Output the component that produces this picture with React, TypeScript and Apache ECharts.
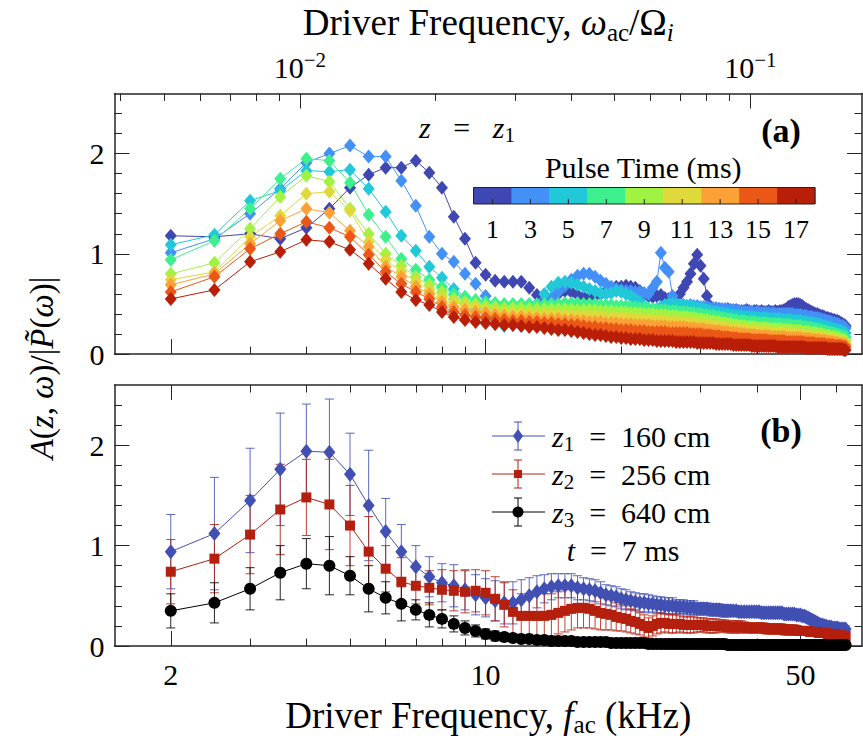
import React, { useEffect, useRef } from 'react';
import * as echarts from 'echarts';

// ---------------- data ----------------
const FREQ_KHZ = [
  2, 2.5, 3, 3.5, 4, 4.5, 5, 5.5, 6, 6.5,
  7, 7.5, 8, 8.5, 9, 9.5, 10, 10.5, 11, 11.5,
  12, 12.5, 13, 13.5, 14, 14.5, 15, 15.5, 16, 16.5,
  17, 17.5, 18, 18.5, 19, 19.5, 20, 20.5, 21, 21.5,
  22, 22.5, 23, 23.5, 24, 24.5, 25, 25.5, 26, 26.5,
  27, 27.5, 28, 28.5, 29, 29.5, 30, 30.5, 31, 31.5,
  32, 32.5, 33, 33.5, 34, 34.5, 35, 35.5, 36, 36.5,
  37, 37.5, 38, 38.5, 39, 39.5, 40, 40.5, 41, 41.5,
  42, 42.5, 43, 43.5, 44, 44.5, 45, 45.5, 46, 46.5,
  47, 47.5, 48, 48.5, 49, 49.5, 50, 50.5, 51, 51.5,
  52, 52.5, 53, 53.5, 54, 54.5, 55, 55.5, 56, 56.5,
  57, 57.5, 58, 58.5, 59, 59.5, 60, 60.5, 61, 61.5,
  62, 62.5, 63,
];

const PULSE_TIMES_MS = [1, 3, 5, 7, 9, 11, 13, 15, 17];

const A_1MS = [
  1.18, 1.17, 1.20, 1.15, 1.26, 1.45, 1.66, 1.79, 1.86, 1.86,
  1.93, 1.81, 1.66, 1.37, 1.15, 0.91, 0.79, 0.73, 0.72, 0.72,
  0.72, 0.66, 0.59, 0.52, 0.55, 0.60, 0.63, 0.62, 0.59, 0.57,
  0.56, 0.58, 0.60, 0.63, 0.65, 0.67, 0.67, 0.68, 0.67, 0.66,
  0.63, 0.60, 0.58, 0.57, 0.58, 0.59, 0.56, 0.55, 0.54, 0.56,
  0.60, 0.66, 0.72, 0.80, 0.90, 0.99, 0.88, 0.75, 0.58, 0.48,
  0.45, 0.44, 0.45, 0.44, 0.44, 0.45, 0.44, 0.43, 0.44, 0.43,
  0.43, 0.43, 0.44, 0.43, 0.42, 0.43, 0.43, 0.42, 0.43, 0.42,
  0.42, 0.43, 0.42, 0.42, 0.43, 0.42, 0.43, 0.43, 0.44, 0.45,
  0.47, 0.48, 0.49, 0.50, 0.50, 0.50, 0.49, 0.48, 0.46, 0.45,
  0.44, 0.43, 0.42, 0.41, 0.40, 0.40, 0.39, 0.38, 0.38, 0.37,
  0.36, 0.36, 0.35, 0.35, 0.34, 0.34, 0.33, 0.33, 0.32, 0.31,
  0.30, 0.29, 0.28,
];
const A_3MS = [
  1.01, 1.15, 1.40, 1.65, 1.91, 2.00, 2.08, 1.97, 1.97, 1.73,
  1.48, 1.17, 1.00, 0.92, 0.80, 0.70, 0.58, 0.47, 0.40, 0.37,
  0.37, 0.40, 0.45, 0.50, 0.56, 0.62, 0.68, 0.74, 0.78, 0.80,
  0.80, 0.77, 0.73, 0.70, 0.67, 0.65, 0.64, 0.63, 0.63, 0.62,
  0.62, 0.61, 0.60, 0.66, 0.72, 1.01, 0.86, 0.82, 0.58, 0.50,
  0.49, 0.49, 0.48, 0.49, 0.48, 0.48, 0.47, 0.47, 0.47, 0.46,
  0.46, 0.46, 0.45, 0.45, 0.45, 0.44, 0.44, 0.44, 0.43, 0.43,
  0.43, 0.42, 0.42, 0.42, 0.42, 0.41, 0.42, 0.41, 0.41, 0.41,
  0.41, 0.41, 0.40, 0.41, 0.40, 0.40, 0.40, 0.40, 0.40, 0.40,
  0.40, 0.40, 0.40, 0.39, 0.39, 0.39, 0.39, 0.38, 0.38, 0.38,
  0.37, 0.37, 0.37, 0.36, 0.36, 0.36, 0.35, 0.35, 0.34, 0.34,
  0.33, 0.33, 0.32, 0.32, 0.31, 0.31, 0.30, 0.30, 0.29, 0.28,
  0.28, 0.27, 0.26,
];
const A_5MS = [
  1.09, 1.19, 1.53, 1.63, 1.83, 1.82, 1.84, 1.65, 1.42, 1.18,
  1.03, 0.87, 0.76, 0.65, 0.57, 0.46, 0.37, 0.30, 0.28, 0.29,
  0.33, 0.40, 0.50, 0.60, 0.67, 0.71, 0.72, 0.71, 0.69, 0.67,
  0.65, 0.63, 0.61, 0.60, 0.61, 0.63, 0.62, 0.60, 0.58, 0.55,
  0.52, 0.48, 0.45, 0.43, 0.45, 0.47, 0.49, 0.50, 0.50, 0.50,
  0.49, 0.49, 0.48, 0.48, 0.47, 0.46, 0.46, 0.45, 0.44, 0.43,
  0.42, 0.42, 0.41, 0.41, 0.40, 0.40, 0.39, 0.39, 0.38, 0.38,
  0.38, 0.37, 0.37, 0.37, 0.37, 0.36, 0.36, 0.36, 0.36, 0.36,
  0.36, 0.35, 0.35, 0.35, 0.35, 0.35, 0.35, 0.34, 0.34, 0.34,
  0.34, 0.34, 0.33, 0.33, 0.33, 0.33, 0.33, 0.32, 0.32, 0.32,
  0.31, 0.31, 0.31, 0.30, 0.30, 0.30, 0.29, 0.29, 0.28, 0.28,
  0.27, 0.27, 0.26, 0.26, 0.25, 0.25, 0.24, 0.24, 0.23, 0.23,
  0.22, 0.22, 0.21,
];
const A_7MS = [
  0.94, 1.13, 1.45, 1.75, 1.95, 1.93, 1.71, 1.39, 1.17, 0.95,
  0.84, 0.74, 0.67, 0.60, 0.57, 0.54, 0.52, 0.51, 0.50, 0.50,
  0.50, 0.50, 0.49, 0.50, 0.50, 0.50, 0.51, 0.51, 0.51, 0.50,
  0.50, 0.50, 0.49, 0.49, 0.49, 0.48, 0.48, 0.48, 0.47, 0.47,
  0.46, 0.46, 0.45, 0.45, 0.44, 0.44, 0.44, 0.43, 0.43, 0.43,
  0.42, 0.42, 0.42, 0.41, 0.41, 0.40, 0.40, 0.39, 0.39, 0.38,
  0.38, 0.37, 0.37, 0.36, 0.36, 0.35, 0.35, 0.34, 0.34, 0.33,
  0.33, 0.33, 0.32, 0.32, 0.32, 0.32, 0.31, 0.31, 0.31, 0.31,
  0.31, 0.30, 0.30, 0.30, 0.30, 0.30, 0.30, 0.29, 0.29, 0.29,
  0.29, 0.29, 0.28, 0.28, 0.28, 0.28, 0.28, 0.27, 0.27, 0.27,
  0.26, 0.26, 0.26, 0.25, 0.25, 0.25, 0.24, 0.24, 0.23, 0.23,
  0.22, 0.22, 0.21, 0.21, 0.21, 0.20, 0.20, 0.19, 0.19, 0.18,
  0.18, 0.17, 0.17,
];
const A_9MS = [
  0.80, 0.91, 1.25, 1.57, 1.78, 1.72, 1.45, 1.20, 1.00, 0.88,
  0.77, 0.69, 0.62, 0.55, 0.52, 0.50, 0.48, 0.47, 0.46, 0.46,
  0.46, 0.45, 0.45, 0.45, 0.45, 0.45, 0.45, 0.45, 0.44, 0.44,
  0.44, 0.44, 0.43, 0.43, 0.43, 0.42, 0.42, 0.42, 0.41, 0.41,
  0.41, 0.40, 0.40, 0.40, 0.39, 0.39, 0.39, 0.38, 0.38, 0.38,
  0.37, 0.37, 0.37, 0.36, 0.36, 0.35, 0.35, 0.34, 0.34, 0.33,
  0.33, 0.32, 0.32, 0.31, 0.31, 0.30, 0.30, 0.29, 0.29, 0.28,
  0.28, 0.28, 0.27, 0.27, 0.27, 0.27, 0.26, 0.26, 0.26, 0.26,
  0.26, 0.25, 0.25, 0.25, 0.25, 0.25, 0.25, 0.24, 0.24, 0.24,
  0.24, 0.24, 0.23, 0.23, 0.23, 0.23, 0.23, 0.22, 0.22, 0.22,
  0.22, 0.21, 0.21, 0.21, 0.21, 0.20, 0.20, 0.20, 0.19, 0.19,
  0.18, 0.18, 0.18, 0.17, 0.17, 0.17, 0.16, 0.16, 0.15, 0.15,
  0.14, 0.14, 0.13,
];
const A_11MS = [
  0.74, 0.82, 1.17, 1.38, 1.60, 1.62, 1.43, 1.12, 0.94, 0.82,
  0.72, 0.64, 0.57, 0.52, 0.49, 0.47, 0.44, 0.43, 0.42, 0.41,
  0.41, 0.40, 0.40, 0.40, 0.40, 0.39, 0.39, 0.39, 0.39, 0.38,
  0.38, 0.38, 0.37, 0.37, 0.37, 0.36, 0.36, 0.36, 0.35, 0.35,
  0.35, 0.34, 0.34, 0.34, 0.33, 0.33, 0.33, 0.32, 0.32, 0.32,
  0.32, 0.31, 0.31, 0.31, 0.30, 0.30, 0.30, 0.29, 0.29, 0.28,
  0.28, 0.28, 0.27, 0.27, 0.26, 0.26, 0.25, 0.25, 0.25, 0.24,
  0.24, 0.24, 0.23, 0.23, 0.23, 0.23, 0.22, 0.22, 0.22, 0.22,
  0.22, 0.21, 0.21, 0.21, 0.21, 0.21, 0.21, 0.20, 0.20, 0.20,
  0.20, 0.20, 0.19, 0.19, 0.19, 0.19, 0.19, 0.18, 0.18, 0.18,
  0.18, 0.18, 0.17, 0.17, 0.17, 0.17, 0.17, 0.16, 0.16, 0.16,
  0.15, 0.15, 0.15, 0.14, 0.14, 0.14, 0.13, 0.13, 0.13, 0.12,
  0.12, 0.11, 0.11,
];
const A_13MS = [
  0.69, 0.80, 1.10, 1.33, 1.45, 1.41, 1.23, 1.07, 0.87, 0.77,
  0.67, 0.60, 0.52, 0.47, 0.44, 0.42, 0.41, 0.39, 0.38, 0.37,
  0.37, 0.36, 0.36, 0.35, 0.35, 0.35, 0.34, 0.34, 0.33, 0.33,
  0.32, 0.32, 0.32, 0.31, 0.31, 0.31, 0.30, 0.30, 0.30, 0.29,
  0.29, 0.29, 0.29, 0.28, 0.28, 0.28, 0.28, 0.27, 0.27, 0.27,
  0.27, 0.27, 0.26, 0.26, 0.26, 0.25, 0.25, 0.25, 0.24, 0.24,
  0.23, 0.23, 0.23, 0.22, 0.22, 0.22, 0.21, 0.21, 0.21, 0.20,
  0.20, 0.20, 0.19, 0.19, 0.19, 0.19, 0.18, 0.18, 0.18, 0.18,
  0.18, 0.18, 0.17, 0.17, 0.17, 0.17, 0.17, 0.17, 0.17, 0.16,
  0.16, 0.16, 0.16, 0.16, 0.16, 0.16, 0.16, 0.15, 0.15, 0.15,
  0.15, 0.15, 0.14, 0.14, 0.14, 0.14, 0.14, 0.13, 0.13, 0.13,
  0.13, 0.12, 0.12, 0.12, 0.12, 0.11, 0.11, 0.11, 0.10, 0.10,
  0.10, 0.09, 0.09,
];
const A_15MS = [
  0.62, 0.77, 1.05, 1.20, 1.32, 1.26, 1.17, 0.99, 0.82, 0.70,
  0.62, 0.55, 0.47, 0.42, 0.39, 0.37, 0.36, 0.35, 0.34, 0.33,
  0.33, 0.32, 0.32, 0.31, 0.31, 0.30, 0.30, 0.29, 0.29, 0.28,
  0.27, 0.27, 0.26, 0.26, 0.25, 0.25, 0.24, 0.24, 0.24, 0.23,
  0.23, 0.23, 0.22, 0.22, 0.22, 0.22, 0.22, 0.21, 0.21, 0.21,
  0.21, 0.21, 0.21, 0.20, 0.20, 0.20, 0.20, 0.19, 0.19, 0.19,
  0.18, 0.18, 0.18, 0.17, 0.17, 0.17, 0.16, 0.16, 0.16, 0.15,
  0.15, 0.15, 0.15, 0.15, 0.14, 0.14, 0.14, 0.14, 0.14, 0.14,
  0.14, 0.13, 0.13, 0.13, 0.13, 0.13, 0.13, 0.13, 0.13, 0.12,
  0.12, 0.12, 0.12, 0.12, 0.12, 0.12, 0.12, 0.12, 0.11, 0.11,
  0.11, 0.11, 0.11, 0.11, 0.10, 0.10, 0.10, 0.10, 0.10, 0.10,
  0.09, 0.09, 0.09, 0.09, 0.09, 0.08, 0.08, 0.08, 0.08, 0.08,
  0.07, 0.07, 0.07,
];
const A_17MS = [
  0.55, 0.64, 0.92, 1.02, 1.14, 1.12, 1.04, 0.90, 0.75, 0.62,
  0.54, 0.49, 0.42, 0.37, 0.34, 0.32, 0.31, 0.30, 0.29, 0.29,
  0.28, 0.27, 0.27, 0.26, 0.25, 0.24, 0.24, 0.23, 0.22, 0.21,
  0.20, 0.19, 0.19, 0.18, 0.17, 0.17, 0.16, 0.16, 0.15, 0.15,
  0.15, 0.14, 0.14, 0.14, 0.13, 0.13, 0.13, 0.13, 0.13, 0.12,
  0.12, 0.12, 0.12, 0.12, 0.12, 0.11, 0.11, 0.11, 0.11, 0.11,
  0.11, 0.10, 0.10, 0.10, 0.10, 0.10, 0.10, 0.09, 0.09, 0.09,
  0.09, 0.09, 0.09, 0.09, 0.08, 0.08, 0.08, 0.08, 0.08, 0.08,
  0.08, 0.08, 0.08, 0.08, 0.08, 0.07, 0.07, 0.07, 0.07, 0.07,
  0.07, 0.07, 0.07, 0.07, 0.07, 0.07, 0.07, 0.07, 0.07, 0.06,
  0.06, 0.06, 0.06, 0.06, 0.06, 0.06, 0.06, 0.06, 0.06, 0.06,
  0.06, 0.05, 0.05, 0.05, 0.05, 0.05, 0.05, 0.05, 0.05, 0.05,
  0.05, 0.04, 0.04,
];

// panel (b): t = 7 ms, three probe positions
const Z1_MEAN = [
  0.94, 1.12, 1.45, 1.76, 1.94, 1.93, 1.71, 1.40, 1.14, 0.94,
  0.79, 0.69, 0.63, 0.60, 0.56, 0.51, 0.48, 0.45, 0.43, 0.43,
  0.46, 0.50, 0.54, 0.57, 0.59, 0.60, 0.60, 0.60, 0.58, 0.57,
  0.56, 0.55, 0.53, 0.51, 0.50, 0.49, 0.47, 0.46, 0.45, 0.44,
  0.43, 0.43, 0.42, 0.42, 0.41, 0.41, 0.40, 0.40, 0.40, 0.39,
  0.39, 0.39, 0.38, 0.38, 0.38, 0.37, 0.37, 0.37, 0.37, 0.36,
  0.36, 0.36, 0.36, 0.35, 0.35, 0.35, 0.35, 0.35, 0.35, 0.34,
  0.34, 0.34, 0.34, 0.34, 0.34, 0.34, 0.34, 0.34, 0.33, 0.33,
  0.33, 0.33, 0.33, 0.33, 0.33, 0.33, 0.33, 0.33, 0.32, 0.32,
  0.32, 0.32, 0.32, 0.32, 0.31, 0.31, 0.31, 0.30, 0.30, 0.29,
  0.28, 0.27, 0.26, 0.25, 0.24, 0.23, 0.22, 0.21, 0.21, 0.20,
  0.20, 0.19, 0.19, 0.19, 0.18, 0.18, 0.18, 0.18, 0.17, 0.17,
  0.17, 0.17, 0.17,
];
const Z1_ERR = [
  0.37, 0.56, 0.52, 0.56, 0.47, 0.53, 0.41, 0.55, 0.33, 0.27,
  0.21, 0.20, 0.19, 0.21, 0.20, 0.20, 0.19, 0.20, 0.21, 0.21,
  0.20, 0.18, 0.16, 0.14, 0.13, 0.12, 0.12, 0.12, 0.12, 0.11,
  0.11, 0.11, 0.11, 0.10, 0.10, 0.10, 0.10, 0.10, 0.09, 0.09,
  0.09, 0.09, 0.09, 0.08, 0.08, 0.08, 0.08, 0.08, 0.08, 0.07,
  0.07, 0.07, 0.07, 0.07, 0.07, 0.06, 0.06, 0.06, 0.06, 0.06,
  0.06, 0.06, 0.06, 0.06, 0.06, 0.06, 0.05, 0.05, 0.05, 0.05,
  0.05, 0.05, 0.05, 0.05, 0.05, 0.05, 0.05, 0.05, 0.05, 0.05,
  0.05, 0.05, 0.05, 0.05, 0.05, 0.05, 0.05, 0.04, 0.04, 0.04,
  0.04, 0.04, 0.04, 0.04, 0.04, 0.04, 0.04, 0.04, 0.04, 0.04,
  0.04, 0.04, 0.04, 0.04, 0.04, 0.04, 0.04, 0.04, 0.04, 0.04,
  0.04, 0.04, 0.04, 0.03, 0.03, 0.03, 0.03, 0.03, 0.03, 0.03,
  0.03, 0.03, 0.03,
];
const Z2_MEAN = [
  0.74, 0.87, 1.11, 1.36, 1.48, 1.41, 1.20, 0.94, 0.77, 0.64,
  0.60, 0.58, 0.56, 0.55, 0.54, 0.55, 0.53, 0.47, 0.41, 0.34,
  0.30, 0.30, 0.30, 0.30, 0.31, 0.33, 0.35, 0.37, 0.38, 0.38,
  0.37, 0.35, 0.33, 0.32, 0.31, 0.29, 0.28, 0.27, 0.25, 0.24,
  0.22, 0.20, 0.18, 0.20, 0.22, 0.23, 0.23, 0.22, 0.22, 0.22,
  0.22, 0.21, 0.21, 0.21, 0.21, 0.21, 0.21, 0.21, 0.20, 0.20,
  0.20, 0.20, 0.20, 0.20, 0.20, 0.19, 0.19, 0.19, 0.19, 0.19,
  0.19, 0.19, 0.18, 0.18, 0.18, 0.18, 0.18, 0.18, 0.18, 0.18,
  0.17, 0.17, 0.17, 0.17, 0.17, 0.17, 0.17, 0.17, 0.16, 0.16,
  0.16, 0.16, 0.16, 0.16, 0.16, 0.15, 0.15, 0.15, 0.15, 0.15,
  0.15, 0.14, 0.14, 0.14, 0.14, 0.14, 0.13, 0.13, 0.13, 0.13,
  0.13, 0.12, 0.12, 0.12, 0.12, 0.12, 0.11, 0.11, 0.11, 0.11,
  0.10, 0.10, 0.10,
];
const Z2_ERR = [
  0.32, 0.34, 0.39, 0.45, 0.38, 0.45, 0.40, 0.35, 0.23, 0.24,
  0.18, 0.17, 0.20, 0.20, 0.21, 0.21, 0.22, 0.22, 0.22, 0.22,
  0.22, 0.22, 0.22, 0.22, 0.21, 0.21, 0.21, 0.21, 0.20, 0.20,
  0.19, 0.18, 0.17, 0.16, 0.15, 0.14, 0.13, 0.13, 0.12, 0.12,
  0.11, 0.11, 0.10, 0.10, 0.10, 0.10, 0.09, 0.09, 0.09, 0.09,
  0.08, 0.08, 0.08, 0.08, 0.08, 0.07, 0.07, 0.07, 0.07, 0.07,
  0.07, 0.07, 0.06, 0.06, 0.06, 0.06, 0.06, 0.06, 0.06, 0.06,
  0.06, 0.05, 0.05, 0.05, 0.05, 0.05, 0.05, 0.05, 0.05, 0.05,
  0.05, 0.05, 0.05, 0.05, 0.05, 0.05, 0.05, 0.05, 0.05, 0.05,
  0.05, 0.05, 0.05, 0.05, 0.04, 0.04, 0.04, 0.04, 0.04, 0.04,
  0.04, 0.04, 0.04, 0.04, 0.04, 0.04, 0.04, 0.04, 0.04, 0.04,
  0.04, 0.04, 0.04, 0.04, 0.04, 0.04, 0.04, 0.04, 0.04, 0.04,
  0.04, 0.04, 0.04,
];
const Z3_MEAN = [
  0.35, 0.43, 0.57, 0.73, 0.82, 0.80, 0.70, 0.57, 0.48, 0.42,
  0.36, 0.31, 0.27, 0.22, 0.18, 0.15, 0.12, 0.10, 0.09, 0.08,
  0.07, 0.07, 0.06, 0.06, 0.05, 0.05, 0.05, 0.05, 0.04, 0.04,
  0.04, 0.04, 0.04, 0.04, 0.03, 0.03, 0.03, 0.03, 0.03, 0.03,
  0.03, 0.03, 0.02, 0.02, 0.02, 0.02, 0.02, 0.02, 0.02, 0.02,
  0.02, 0.02, 0.02, 0.02, 0.02, 0.02, 0.02, 0.02, 0.02, 0.02,
  0.02, 0.02, 0.02, 0.02, 0.02, 0.01, 0.01, 0.01, 0.01, 0.01,
  0.01, 0.01, 0.01, 0.01, 0.01, 0.01, 0.01, 0.01, 0.01, 0.01,
  0.01, 0.01, 0.01, 0.01, 0.01, 0.01, 0.01, 0.01, 0.01, 0.01,
  0.01, 0.01, 0.01, 0.01, 0.01, 0.01, 0.01, 0.01, 0.01, 0.01,
  0.01, 0.01, 0.01, 0.01, 0.01, 0.01, 0.01, 0.01, 0.01, 0.01,
  0.01, 0.01, 0.01, 0.01, 0.01, 0.01, 0.01, 0.01, 0.01, 0.01,
  0.01, 0.01, 0.01,
];
const Z3_ERR = [
  0.17, 0.20, 0.21, 0.27, 0.25, 0.29, 0.19, 0.23, 0.16, 0.17,
  0.10, 0.12, 0.09, 0.08, 0.07, 0.06, 0.05, 0.05, 0.04, 0.04,
  0.03, 0.03, 0.03, 0.03, 0.03, 0.03, 0.02, 0.02, 0.02, 0.02,
  0.02, 0.02, 0.02, 0.02, 0.02, 0.02, 0.02, 0.02, 0.02, 0.02,
  0.02, 0.02, 0.01, 0.01, 0.01, 0.01, 0.01, 0.01, 0.01, 0.01,
  0.01, 0.01, 0.01, 0.01, 0.01, 0.01, 0.01, 0.01, 0.01, 0.01,
  0.01, 0.01, 0.01, 0.01, 0.01, 0.01, 0.01, 0.01, 0.01, 0.01,
  0.01, 0.01, 0.01, 0.01, 0.01, 0.01, 0.01, 0.01, 0.01, 0.01,
  0.01, 0.01, 0.01, 0.01, 0.01, 0.01, 0.01, 0.01, 0.01, 0.01,
  0.01, 0.01, 0.01, 0.01, 0.01, 0.01, 0.01, 0.01, 0.01, 0.01,
  0.01, 0.01, 0.01, 0.01, 0.01, 0.01, 0.01, 0.01, 0.01, 0.01,
  0.01, 0.01, 0.01, 0.01, 0.01, 0.01, 0.01, 0.01, 0.01, 0.01,
  0.01, 0.01, 0.01,
];

const PROBE_LABELS = ['160', '256', '640'];
const PROBE_INDEX = ['1', '2', '3'];

// axes / ticks
const F_MIN = 1.5;
const F_MAX = 68.5;
const ION_CYCLOTRON_KHZ = 387; // omega/Omega_i = f / 387 kHz
const X_MAJOR_TICKS = [2, 10, 50];
const X_MINOR_TICKS = [3, 4, 5, 6, 7, 8, 9, 20, 30, 40, 60];
const W_MAJOR_TICKS = [0.01, 0.1];
const W_MINOR_TICKS = [0.004, 0.005, 0.006, 0.007, 0.008, 0.009, 0.02, 0.03, 0.04, 0.05, 0.06, 0.07, 0.08, 0.09];
const Y_MAJOR_TICKS = [0, 1, 2];
const Y_MINOR_TICKS = [0.2, 0.4, 0.6, 0.8, 1.2, 1.4, 1.6, 1.8, 2.2, 2.4];
const Y_MAX = 2.6;

// ---------------- styles ----------------
const PULSE_COLORS = ['#3F47B2', '#4391F6', '#20C8D8', '#3EEF8E', '#A1F343', '#DFD93B', '#FCA135', '#EA5717', '#B91E08'];
const PROBE_COLORS = ['#4150B2', '#B5200E', '#000000'];
const PROBE_SYMBOLS = ['diamond', 'rect', 'circle'];
const PROBE_SIZES: any[] = [[12, 15], 10, 12];
const FONT = 'Liberation Serif';
const AX = '#262626';

const G0 = { left: 114.5, top: 93.5, width: 747.5, height: 260.5 };
const G1 = { left: 114.5, top: 385, width: 747.5, height: 262 };

function richSet(size: number, sub: number, lh: number) {
  return {
    n: { fontFamily: FONT, fontSize: size, lineHeight: lh, color: '#000' },
    i: { fontFamily: FONT, fontSize: size, lineHeight: lh, fontStyle: 'italic', color: '#000' },
    s: { fontFamily: FONT, fontSize: sub, lineHeight: sub, verticalAlign: 'bottom', color: '#000' },
    si: { fontFamily: FONT, fontSize: sub, lineHeight: sub, verticalAlign: 'bottom', fontStyle: 'italic', color: '#000' },
    b: { fontFamily: FONT, fontSize: size, lineHeight: lh, color: '#000' },
    sup: { fontFamily: FONT, fontSize: sub, lineHeight: sub, verticalAlign: 'top', color: '#000' },
  };
}
const RICH_TITLE = richSet(37, 25, 44);
const RICH_LEG = richSet(30, 21, 36);
const RICH_TICK = richSet(30, 21, 36);
const RICH_YT = richSet(33, 23, 40);

function xAxisDef(grid: number, pos: 'top' | 'bottom', min: number, max: number, ticks: number[], len: number, line: boolean, labels?: any, name?: any) {
  return {
    type: 'log', logBase: 10, gridIndex: grid, position: pos, min, max,
    splitLine: { show: false }, minorTick: { show: false }, minorSplitLine: { show: false },
    axisLine: { show: line, onZero: false, lineStyle: { color: AX, width: 1.5 } },
    axisTick: { show: true, inside: true, length: len, customValues: ticks, lineStyle: { color: AX, width: 1 } },
    axisLabel: labels ? labels : { show: false },
    ...(name || {}),
  };
}
function yAxisDef(grid: number, pos: 'left' | 'right', ticks: number[], len: number, line: boolean, labels: boolean) {
  return {
    type: 'value', gridIndex: grid, position: pos, min: 0, max: Y_MAX,
    splitLine: { show: false },
    axisLine: { show: line, onZero: false, lineStyle: { color: AX, width: 1.5 } },
    axisTick: { show: true, inside: true, length: len, customValues: ticks, lineStyle: { color: AX, width: 1 } },
    axisLabel: labels
      ? { show: true, customValues: Y_MAJOR_TICKS, fontFamily: FONT, fontSize: 30, color: '#000', margin: 10, formatter: (v: number) => String(Math.round(v)) }
      : { show: false },
  };
}

function errorBarSeries(mean: number[], err: number[], color: string, xi: number, yi: number) {
  return {
    type: 'custom', xAxisIndex: xi, yAxisIndex: yi, silent: true, clip: true,
    data: FREQ_KHZ.map((f, i) => [f, mean[i] - err[i], mean[i] + err[i]]),
    encode: { x: 0, y: [1, 2] },
    renderItem: (_p: any, api: any) => {
      const x = api.value(0);
      const lo = api.coord([x, api.value(1)]);
      const hi = api.coord([x, api.value(2)]);
      const hw = 4.5;
      const st = { stroke: color, lineWidth: 1, opacity: 0.85 };
      return {
        type: 'group',
        children: [
          { type: 'line', shape: { x1: lo[0], y1: lo[1], x2: hi[0], y2: hi[1] }, style: st },
          { type: 'line', shape: { x1: lo[0] - hw, y1: lo[1], x2: lo[0] + hw, y2: lo[1] }, style: st },
          { type: 'line', shape: { x1: hi[0] - hw, y1: hi[1], x2: hi[0] + hw, y2: hi[1] }, style: st },
        ],
      };
    },
  };
}

function buildOption() {
  const wMin = F_MIN / ION_CYCLOTRON_KHZ;
  const wMax = F_MAX / ION_CYCLOTRON_KHZ;
  const xAxis = [
    // grid 0
    xAxisDef(0, 'bottom', F_MIN, F_MAX, X_MAJOR_TICKS, 15, true),
    xAxisDef(0, 'bottom', F_MIN, F_MAX, X_MINOR_TICKS, 7.5, false),
    xAxisDef(0, 'top', wMin, wMax, W_MAJOR_TICKS, 15, true, {
      show: true, customValues: W_MAJOR_TICKS, margin: 8,
      formatter: (v: number) => `{b|10}{sup|−${Math.round(-Math.log10(v))}}`,
      rich: RICH_TICK,
    }, {
      name: '{n|Driver Frequency, }{i|ω}{s|ac}{n|/Ω}{si|i}', nameLocation: 'middle', nameGap: 49,
      nameTextStyle: { fontFamily: FONT, fontSize: 37, color: '#000', rich: RICH_TITLE },
    }),
    xAxisDef(0, 'top', wMin, wMax, W_MINOR_TICKS, 7.5, false),
    // grid 1
    xAxisDef(1, 'bottom', F_MIN, F_MAX, X_MAJOR_TICKS, 15, true, {
      show: true, customValues: X_MAJOR_TICKS, margin: 13, fontFamily: FONT, fontSize: 30, color: '#000',
      formatter: (v: number) => String(Math.round(v)),
    }, {
      name: '{n|Driver Frequency, }{i|f}{s|ac}{n| (kHz)}', nameLocation: 'middle', nameGap: 47,
      nameTextStyle: { fontFamily: FONT, fontSize: 37, color: '#000', rich: RICH_TITLE },
    }),
    xAxisDef(1, 'bottom', F_MIN, F_MAX, X_MINOR_TICKS, 7.5, false),
    xAxisDef(1, 'top', F_MIN, F_MAX, X_MAJOR_TICKS, 15, true),
    xAxisDef(1, 'top', F_MIN, F_MAX, X_MINOR_TICKS, 7.5, false),
  ];
  const yAxis = [
    yAxisDef(0, 'left', Y_MAJOR_TICKS, 15, true, true),
    yAxisDef(0, 'left', Y_MINOR_TICKS, 7.5, false, false),
    yAxisDef(0, 'right', Y_MAJOR_TICKS, 15, true, false),
    yAxisDef(0, 'right', Y_MINOR_TICKS, 7.5, false, false),
    yAxisDef(1, 'left', Y_MAJOR_TICKS, 15, true, true),
    yAxisDef(1, 'left', Y_MINOR_TICKS, 7.5, false, false),
    yAxisDef(1, 'right', Y_MAJOR_TICKS, 15, true, false),
    yAxisDef(1, 'right', Y_MINOR_TICKS, 7.5, false, false),
  ];

  const pulseData = [A_1MS, A_3MS, A_5MS, A_7MS, A_9MS, A_11MS, A_13MS, A_15MS, A_17MS];
  const series: any[] = pulseData.map((arr, k) => ({
    type: 'line', name: `${PULSE_TIMES_MS[k]} ms`, xAxisIndex: 0, yAxisIndex: 0, silent: true,
    data: FREQ_KHZ.map((f, i) => [f, arr[i]]),
    symbol: 'diamond', symbolSize: [12, 14],
    itemStyle: { color: PULSE_COLORS[k] },
    lineStyle: { color: PULSE_COLORS[k], width: 1 },
  }));

  const probes = [[Z1_MEAN, Z1_ERR], [Z2_MEAN, Z2_ERR], [Z3_MEAN, Z3_ERR]];
  probes.forEach(([m, e], k) => {
    series.push(errorBarSeries(m, e, PROBE_COLORS[k], 4, 4));
    series.push({
      type: 'line', name: `z${k + 1}`, xAxisIndex: 4, yAxisIndex: 4, silent: true,
      data: FREQ_KHZ.map((f, i) => [f, m[i]]),
      symbol: PROBE_SYMBOLS[k], symbolSize: PROBE_SIZES[k],
      itemStyle: { color: PROBE_COLORS[k] },
      lineStyle: { color: PROBE_COLORS[k], width: 1 },
    });
  });

  // graphic: colorbar, annotations, legend of panel (b), y title
  const graphic: any[] = [];
  const cbX = 473.5, cbY = 187.5, cbW = 341.5, cbH = 16.5;
  const cell = cbW / PULSE_TIMES_MS.length;
  PULSE_TIMES_MS.forEach((t, k) => {
    graphic.push({ type: 'rect', shape: { x: cbX + k * cell, y: cbY, width: cell + 0.5, height: cbH }, style: { fill: PULSE_COLORS[k] }, silent: true });
    graphic.push({ type: 'line', shape: { x1: cbX + (k + 0.5) * cell, y1: cbY + cbH, x2: cbX + (k + 0.5) * cell, y2: cbY + cbH - 5 }, style: { stroke: '#222', lineWidth: 1 }, silent: true });
    graphic.push({ type: 'text', x: cbX + (k + 0.5) * cell, y: 229, style: { text: String(t), fontFamily: FONT, fontSize: 26, fill: '#000', align: 'center', verticalAlign: 'middle' }, silent: true });
  });
  graphic.push({ type: 'rect', shape: { x: cbX, y: cbY, width: cbW, height: cbH }, style: { fill: 'none', stroke: '#222', lineWidth: 1 }, silent: true });
  graphic.push({ type: 'text', x: cbX + cbW / 2 - 1, y: 167, style: { text: 'Pulse Time (ms)', fontFamily: FONT, fontSize: 30, fill: '#000', align: 'center', verticalAlign: 'middle' }, silent: true });
  graphic.push({ type: 'text', x: 467, y: 127, style: { text: '{i|z}{n|   =   }{i|z}{s|1}', rich: RICH_LEG, align: 'center', verticalAlign: 'middle' }, silent: true });
  graphic.push({ type: 'text', x: 781, y: 130, style: { text: '(a)', fontFamily: FONT, fontWeight: 'bold', fontSize: 34, fill: '#000', align: 'center', verticalAlign: 'middle' }, silent: true });
  graphic.push({ type: 'text', x: 781, y: 430, style: { text: '(b)', fontFamily: FONT, fontWeight: 'bold', fontSize: 34, fill: '#000', align: 'center', verticalAlign: 'middle' }, silent: true });

  const legY = [436, 474, 512];
  PROBE_LABELS.forEach((lab, k) => {
    const y = legY[k];
    const c = PROBE_COLORS[k];
    const cx = 518;
    graphic.push({ type: 'line', shape: { x1: 492, y1: y, x2: 545, y2: y }, style: { stroke: c, lineWidth: 1 }, silent: true });
    graphic.push({ type: 'line', shape: { x1: cx, y1: y - 14, x2: cx, y2: y + 14 }, style: { stroke: c, lineWidth: 1 }, silent: true });
    graphic.push({ type: 'line', shape: { x1: cx - 4, y1: y - 14, x2: cx + 4, y2: y - 14 }, style: { stroke: c, lineWidth: 1 }, silent: true });
    graphic.push({ type: 'line', shape: { x1: cx - 4, y1: y + 14, x2: cx + 4, y2: y + 14 }, style: { stroke: c, lineWidth: 1 }, silent: true });
    if (k === 0) graphic.push({ type: 'polygon', shape: { points: [[cx, y - 7], [cx + 5, y], [cx, y + 7], [cx - 5, y]] }, style: { fill: c }, silent: true });
    if (k === 1) graphic.push({ type: 'rect', shape: { x: cx - 4, y: y - 4, width: 8, height: 8 }, style: { fill: c }, silent: true });
    if (k === 2) graphic.push({ type: 'circle', shape: { cx, cy: y, r: 5.5 }, style: { fill: c }, silent: true });
    graphic.push({ type: 'text', x: 552, y, style: { text: `{i|z}{s|${PROBE_INDEX[k]}}{n|  =  ${lab} cm}`, rich: RICH_LEG, align: 'left', verticalAlign: 'middle' }, silent: true });
  });
  graphic.push({ type: 'text', x: 623, y: 550, style: { text: '{i|t}{n|  =  7 ms}', rich: RICH_LEG, align: 'center', verticalAlign: 'middle' }, silent: true });
  graphic.push({
    type: 'text', x: 42, y: 368, rotation: Math.PI / 2,
    style: { text: '{i|A}{n|(}{i|z}{n|, }{i|ω}{n|)/|}{i|P\u0303}{n|(}{i|ω}{n|)|}', rich: RICH_YT, align: 'center', verticalAlign: 'middle' },
    silent: true,
  });

  return {
    animation: false,
    backgroundColor: '#ffffff',
    textStyle: { fontFamily: FONT },
    grid: [G0, G1],
    xAxis,
    yAxis,
    series,
    graphic,
  };
}

export default function App() {
  const ref = useRef<HTMLDivElement>(null);
  useEffect(() => {
    if (!ref.current) return;
    const chart = echarts.init(ref.current, undefined, { renderer: 'svg' });
    chart.setOption(buildOption() as any);
    return () => chart.dispose();
  }, []);
  return <div ref={ref} style={{ position: 'fixed', left: 0, top: 0, width: 863, height: 738, background: '#fff' }} />;
}
